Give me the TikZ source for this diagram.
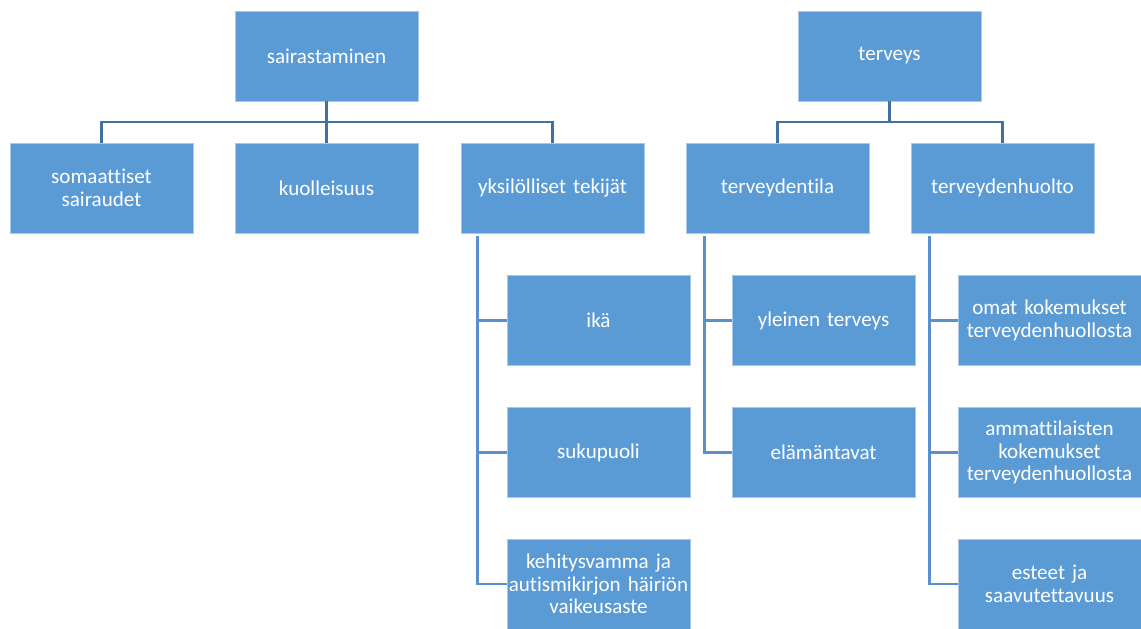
\documentclass[tikz,border=0pt]{standalone}
\usepackage{fontspec}
\setmainfont{Carlito}[Ligatures=NoCommon, WordSpace={0.6,0,0}]
\usepackage{tikz}

\definecolor{laatikko}{HTML}{5B9BD5}
\definecolor{reuna}{HTML}{A9C8E8}
\definecolor{runko}{HTML}{41719C}
\definecolor{haara}{HTML}{5A90CC}

\begin{document}
\begin{tikzpicture}[x=0.02cm, y=-0.02cm,
        laatikko/.style={rectangle, fill=laatikko, draw=reuna, line width=0.4pt,
            minimum width=3.66cm, minimum height=1.8cm, text width=3.66cm, inner xsep=0pt,
            align=center, text=white, font=\fontsize{12}{12.8}\selectfont},
        runkoviiva/.style={draw=runko, line width=1.6pt},
        haaraviiva/.style={draw=haara, line width=1.6pt}]
        \useasboundingbox (0,0) rectangle (1141,628);
        % Ylätaso
        \node[laatikko] (sair) at (326.5,56) {sairastaminen};
        \node[laatikko] (terv) at (889.5,56) {terveys};
        % Toinen taso
        \node[laatikko] (soma) at (101.5,188) {somaattiset\\sairaudet};
        \node[laatikko] (kuol) at (326.5,188) {kuolleisuus};
        \node[laatikko] (yksi) at (552.5,188) {yksilölliset tekijät};
        \node[laatikko] (tila) at (777.5,188) {terveydentila};
        \node[laatikko] (huol) at (1002.5,188) {terveydenhuolto};
        % Kolmas taso
        \node[laatikko] (ika) at (598.5,320.5) {ikä};
        \node[laatikko] (suku) at (598.5,452.5) {sukupuoli};
        \node[laatikko] (kehi) at (598.5,584) {kehitysvamma ja\\autismikirjon häiriön\\vaikeusaste};
        \node[laatikko] (ylei) at (823.5,320.5) {yleinen terveys};
        \node[laatikko] (elam) at (823.5,452.5) {elämäntavat};
        \node[laatikko] (omat) at (1049.5,320.5) {omat kokemukset\\terveydenhuollosta};
        \node[laatikko] (amma) at (1049.5,452.5) {ammattilaisten\\kokemukset\\terveydenhuollosta};
        \node[laatikko] (este) at (1049.5,584) {esteet ja\\saavutettavuus};
        % Rungot
        \coordinate (sjako) at (326.5,122);
        \coordinate (tjako) at (889.5,122);
        \draw[runkoviiva] (sair.south) -- (kuol.north);
        \draw[runkoviiva] (soma.north) -- (soma.north |- sjako) -- (yksi.north |- sjako) -- (yksi.north);
        \draw[runkoviiva] (terv.south) -- (tjako);
        \draw[runkoviiva] (tila.north) -- (tila.north |- tjako) -- (huol.north |- tjako) -- (huol.north);
        % Sivuhaarat
        \draw[haaraviiva] (yksi.south west) ++(17,3) |- (ika.west);
        \draw[haaraviiva] (yksi.south west) ++(17,3) |- (suku.west);
        \draw[haaraviiva] (yksi.south west) ++(17,3) |- (kehi.west);
        \draw[haaraviiva] (tila.south west) ++(19,3) |- (ylei.west);
        \draw[haaraviiva] (tila.south west) ++(19,3) |- (elam.west);
        \draw[haaraviiva] (huol.south west) ++(19,3) |- (omat.west);
        \draw[haaraviiva] (huol.south west) ++(19,3) |- (amma.west);
        \draw[haaraviiva] (huol.south west) ++(19,3) |- (este.west);
    \end{tikzpicture}
\end{document}
